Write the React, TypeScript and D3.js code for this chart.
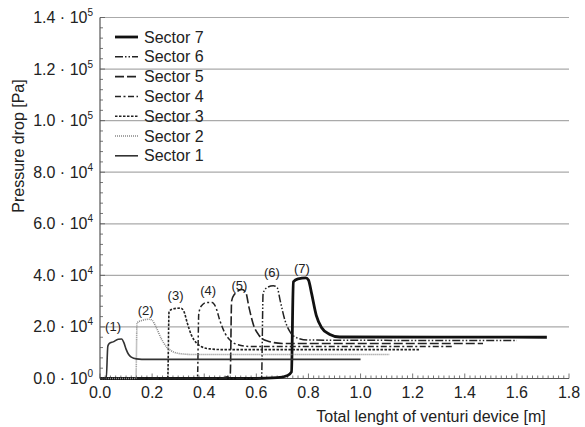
import React from "react";
import * as d3 from "d3";

const W = 585;
const H = 427;

const xTicks = [0, 0.2, 0.4, 0.6, 0.8, 1.0, 1.2, 1.4, 1.6, 1.8];
const yTicks = [0, 20000, 40000, 60000, 80000, 100000, 120000, 140000];
const yTickMant = ["0.0", "2.0", "4.0", "6.0", "8.0", "1.0", "1.2", "1.4"];
const yTickExp = ["0", "4", "4", "4", "4", "5", "5", "5"];

const sector1: [number, number][] = [[0, 0], [0.024, 0], [0.03, 12500], [0.036, 13600], [0.05, 14200], [0.07, 15200], [0.083, 15300], [0.092, 13800], [0.1, 11400], [0.11, 9300], [0.12, 8300], [0.14, 7600], [0.18, 7400], [1.0, 7400]];
const sector2: [number, number][] = [[0, 0], [0.138, 0], [0.142, 21500], [0.16, 22500], [0.19, 23000], [0.2, 22600], [0.215, 20000], [0.235, 15500], [0.255, 12300], [0.28, 10400], [0.31, 9600], [0.36, 9300], [1.11, 9300]];
const sector3: [number, number][] = [[0, 0], [0.26, 0], [0.265, 26000], [0.28, 27000], [0.31, 27300], [0.322, 26000], [0.335, 21500], [0.35, 17000], [0.37, 13800], [0.39, 12300], [0.42, 11500], [0.47, 11200], [1.23, 11200]];
const sector4: [number, number][] = [[0, 0], [0.374, 0], [0.379, 25000], [0.388, 28000], [0.41, 29500], [0.43, 29500], [0.445, 27500], [0.46, 22500], [0.48, 17500], [0.5, 14800], [0.53, 13100], [0.58, 12400], [1.355, 12400]];
const sector5: [number, number][] = [[0, 0], [0.45, 0], [0.485, 600], [0.5, 1800], [0.505, 30000], [0.515, 32500], [0.545, 34500], [0.56, 33200], [0.572, 27500], [0.59, 20500], [0.61, 16800], [0.64, 14600], [0.7, 13600], [1.47, 13600]];
const sector6: [number, number][] = [[0, 0], [0.62, 0], [0.626, 33000], [0.64, 35200], [0.665, 36000], [0.68, 35200], [0.692, 30000], [0.71, 22500], [0.73, 18000], [0.76, 15600], [0.8, 14900], [1.6, 14700]];
const sector7: [number, number][] = [[0, 0], [0.6, 0], [0.68, 300], [0.72, 1200], [0.735, 2600], [0.742, 37500], [0.76, 38600], [0.79, 39000], [0.8, 38200], [0.812, 33000], [0.83, 24500], [0.85, 19800], [0.88, 17200], [0.92, 16100], [1.715, 16000]];

const sectorNames = ["Sector 7", "Sector 6", "Sector 5", "Sector 4", "Sector 3", "Sector 2", "Sector 1"];
const sectorData = [sector7, sector6, sector5, sector4, sector3, sector2, sector1];
const sectorStyles = [
  { stroke: "#111", width: 2.8, dash: "" },
  { stroke: "#222", width: 1.5, dash: "8,2,1.5,2,1.5,2" },
  { stroke: "#222", width: 1.6, dash: "9,3" },
  { stroke: "#222", width: 1.5, dash: "6,2.5,2,2.5" },
  { stroke: "#222", width: 1.6, dash: "2.5,1.5" },
  { stroke: "#888", width: 1.6, dash: "1,1" },
  { stroke: "#333", width: 1.6, dash: "" },
];

const peakLabels = ["(1)", "(2)", "(3)", "(4)", "(5)", "(6)", "(7)"];
const peakLabelX = [0.05, 0.175, 0.29, 0.415, 0.535, 0.66, 0.775];
const peakLabelY = [18500, 24500, 30500, 32500, 34500, 39500, 41000];

export default function App() {
  const left = 100, right = 569, top = 17.5, bottom = 378.5;
  const x = d3.scaleLinear().domain([0, 1.8]).range([left, right]);
  const y = d3.scaleLinear().domain([0, 140000]).range([bottom, top]);
  const line = d3
    .line<[number, number]>()
    .x((d) => x(d[0]))
    .y((d) => y(d[1]))
    .curve(d3.curveMonotoneX);

  const xMinor = d3.range(0, 1.8001, 0.02);
  const yMinor = d3.range(0, 140001, 4000);
  const font = "'Liberation Sans', Arial, Helvetica, sans-serif";
  const textColor = "#222";

  return (
    <svg width={W} height={H} style={{ position: "absolute", left: 0, top: 0 }} fontFamily={font}>
      <rect width={W} height={H} fill="#fff" />
      {yTicks.slice(1).map((t) => (
        <line key={t} x1={left} x2={right} y1={y(t)} y2={y(t)} stroke="#aaa" strokeWidth={1.2} />
      ))}
      {xMinor.map((t, i) => (
        <line key={"xm" + i} x1={x(t)} x2={x(t)} y1={bottom} y2={bottom - (i % 10 === 0 ? 5 : 3)} stroke="#555" strokeWidth={0.8} />
      ))}
      {yMinor.map((t, i) => (
        <line key={"ym" + i} x1={left} x2={left + (i % 5 === 0 ? 5 : 3)} y1={y(t)} y2={y(t)} stroke="#555" strokeWidth={0.8} />
      ))}
      <line x1={left} x2={left} y1={top} y2={bottom} stroke="#555" strokeWidth={1.2} />
      <line x1={left} x2={right} y1={bottom} y2={bottom} stroke="#555" strokeWidth={1.2} />

      {sectorData.map((d, i) => (
        <path
          key={i}
          d={line(d) || ""}
          fill="none"
          stroke={sectorStyles[i].stroke}
          strokeWidth={sectorStyles[i].width}
          strokeDasharray={sectorStyles[i].dash}
          strokeLinejoin="round"
        />
      ))}

      {peakLabels.map((l, i) => (
        <text key={l} x={x(peakLabelX[i])} y={y(peakLabelY[i])} fontSize={13} textAnchor="middle" fill={textColor}>
          {l}
        </text>
      ))}

      {xTicks.map((t) => (
        <text key={t} x={x(t)} y={398} fontSize={16} textAnchor="middle" fill={textColor}>
          {t.toFixed(1)}
        </text>
      ))}
      {yTicks.map((t, i) => (
        <text key={t} x={93} y={y(t) + 5.5} fontSize={16} textAnchor="end" fill={textColor} xmlSpace="preserve">
          {`${yTickMant[i]} · 10`}
          <tspan fontSize={10} dy={-7}>{yTickExp[i]}</tspan>
        </text>
      ))}

      <text x={431} y={422} fontSize={16} textAnchor="middle" fill={textColor}>
        Total lenght of venturi device [m]
      </text>
      <text transform={`translate(24,146) rotate(-90)`} fontSize={16} textAnchor="middle" fill={textColor}>
        Pressure drop [Pa]
      </text>

      {sectorNames.map((n, i) => {
        const ly = 37 + i * 19.8;
        return (
          <g key={n}>
            <line
              x1={115}
              x2={138}
              y1={ly}
              y2={ly}
              stroke={sectorStyles[i].stroke}
              strokeWidth={sectorStyles[i].width}
              strokeDasharray={sectorStyles[i].dash}
            />
            <text x={144} y={ly + 5.5} fontSize={16} fill={textColor}>
              {n}
            </text>
          </g>
        );
      })}
    </svg>
  );
}
